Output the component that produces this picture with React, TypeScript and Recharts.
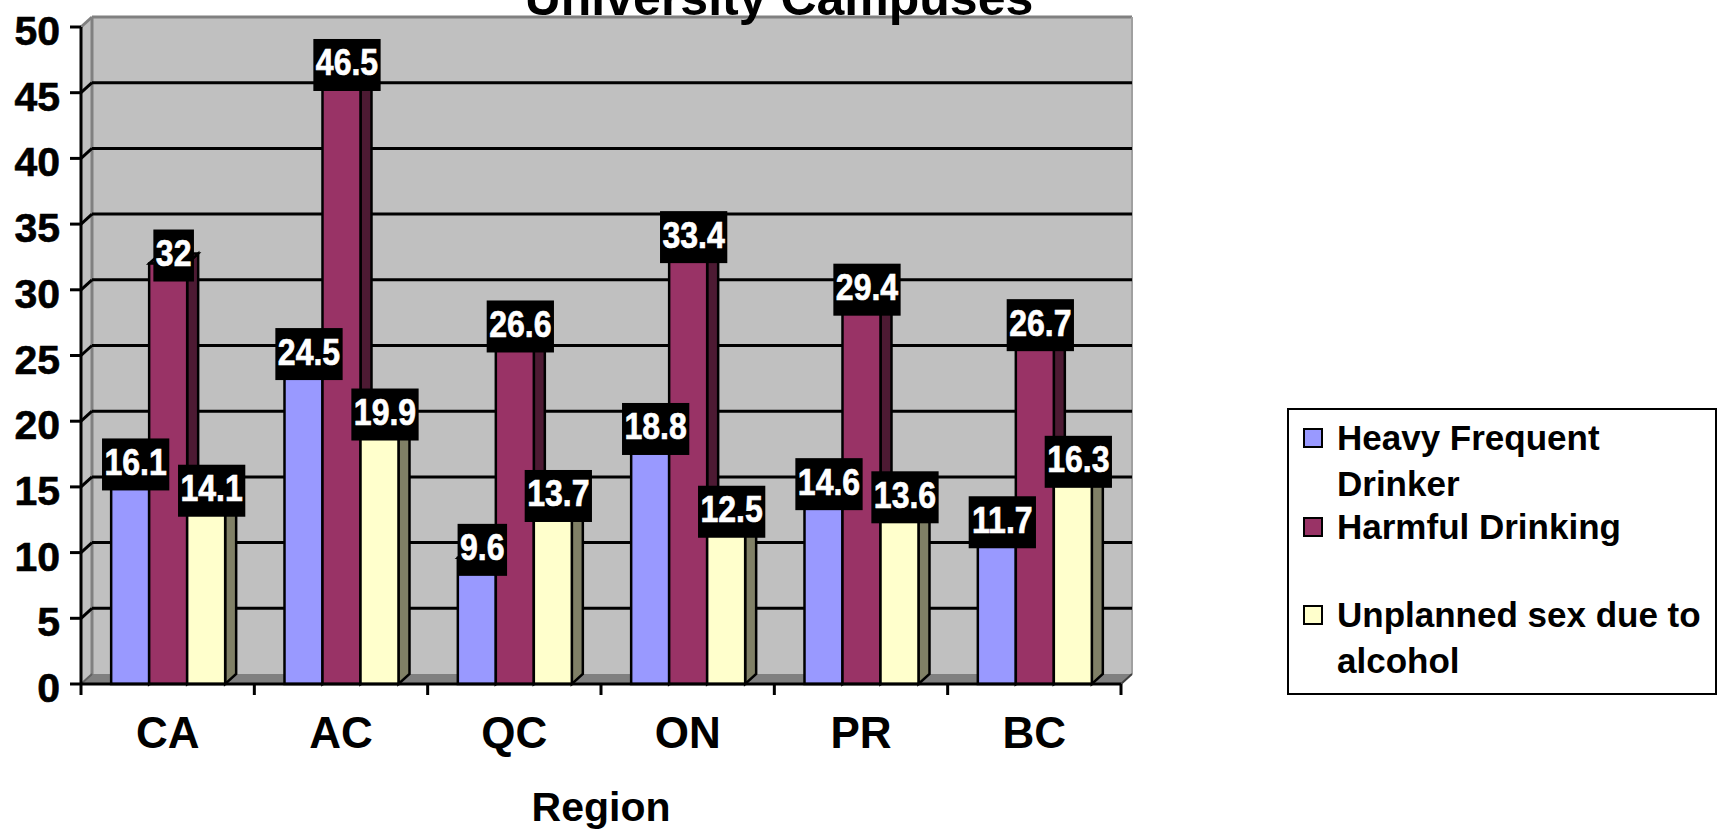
import React from 'react';
import { BarChart, Bar, XAxis, YAxis, CartesianGrid, Legend, LabelList } from 'recharts';

// ---------- data ----------
const regions = ['CA', 'AC', 'QC', 'ON', 'PR', 'BC'];
const heavyFrequentDrinker = [16.1, 24.5, 9.6, 18.8, 14.6, 11.7];
const harmfulDrinking = [32, 46.5, 26.6, 33.4, 29.4, 26.7];
const unplannedSex = [14.1, 19.9, 13.7, 12.5, 13.6, 16.3];
const yTicks = [0, 5, 10, 15, 20, 25, 30, 35, 40, 45, 50];
const seriesNames = ['Heavy Frequent Drinker', 'Harmful Drinking', 'Unplanned sex due to alcohol'];
const seriesKeys = ['hfd', 'hd', 'us'];
const titleText = 'University Campuses';
const xAxisTitle = 'Region';

const data = regions.map((r, i) => ({
  region: r,
  hfd: heavyFrequentDrinker[i],
  hd: harmfulDrinking[i],
  us: unplannedSex[i],
}));

// ---------- styling / layout ----------
const FONT = '"Liberation Sans", Arial, Helvetica, sans-serif';
const frontColors = ['#9999ff', '#993366', '#ffffcc'];
const sideColors = ['#4d4d80', '#4d1a33', '#808066'];

const W = 1731;
const H = 833;
const MARGIN_TOP = 27;
const MARGIN_RIGHT = 610;
const Y_AXIS_W = 81;
const X_AXIS_H = 149;
const PLOT_LEFT = Y_AXIS_W;
const PLOT_TOP = MARGIN_TOP;
const PLOT_RIGHT = W - MARGIN_RIGHT;
const PLOT_BOTTOM = H - X_AXIS_H;
const DX = 11; // 3D depth offset
const DY = 10;
const BAND = (PLOT_RIGHT - PLOT_LEFT) / regions.length;

// ---------- bar shape with 3D faces ----------
const make3D = (front: string, side: string) => (props: any) => {
  const x = Number(props.x);
  const y = Number(props.y);
  const w = Number(props.width);
  const h = Number(props.height);
  if (!isFinite(x) || !isFinite(y) || !isFinite(w) || !isFinite(h)) return <g />;
  const sw = 2.5;
  return (
    <g>
      <polygon
        points={`${x + w},${y} ${x + w + DX},${y - DY} ${x + w + DX},${y + h - DY} ${x + w},${y + h}`}
        fill={side}
        stroke="#000"
        strokeWidth={sw}
      />
      <polygon
        points={`${x},${y} ${x + DX},${y - DY} ${x + w + DX},${y - DY} ${x + w},${y}`}
        fill={front}
        stroke="#000"
        strokeWidth={sw}
      />
      <rect x={x} y={y} width={w} height={h} fill={front} stroke="#000" strokeWidth={sw} />
    </g>
  );
};

const emptyShape = () => <g />;

// ---------- data label (black box, white text) ----------
const LabelBox = (props: any) => {
  const vb = props.viewBox || {};
  const x = Number(props.x ?? vb.x);
  const y = Number(props.y ?? vb.y);
  const width = Number(props.width ?? vb.width);
  const s = String(props.value);
  const fs = 32;
  let em = 0;
  for (const c of s) em += c === '.' ? 0.278 : 0.556;
  const bw = em * fs + 5;
  const bh = 52;
  const cx = x + width / 2 + DX / 2;
  const cy = y - 8;
  const base = cy + 10.5;
  return (
    <g>
      <rect x={cx - bw / 2} y={cy - bh / 2} width={bw} height={bh} fill="#000" />
      <text
        x={cx}
        y={base}
        textAnchor="middle"
        fill="#fff"
        stroke="#fff"
        strokeWidth={0.6}
        fontFamily={FONT}
        fontWeight="bold"
        fontSize={fs}
        transform={`translate(0 ${base}) scale(1 1.16) translate(0 ${-base})`}
      >
        {s}
      </text>
    </g>
  );
};

// ---------- axis ticks ----------
const YTick = (props: any) => {
  const y = Number(props.y);
  const v = props.payload?.value;
  const isEdge = v === 0 || v === 50;
  return (
    <g>
      <line x1={PLOT_LEFT - 11} y1={y} x2={PLOT_LEFT} y2={y} stroke="#000" strokeWidth={3} />
      {!isEdge && (
        <line x1={PLOT_LEFT} y1={y} x2={PLOT_LEFT + DX} y2={y - DY} stroke="#000" strokeWidth={3} />
      )}
      <text
        x={PLOT_LEFT - 21}
        y={y + 18}
        textAnchor="end"
        fill="#000"
        stroke="#000"
        strokeWidth={0.6}
        fontFamily={FONT}
        fontWeight="bold"
        fontSize={41}
      >
        {v}
      </text>
    </g>
  );
};

const XTick = (props: any) => {
  const x = Number(props.x);
  const idx = Number(props.index ?? props.payload?.index ?? 0);
  const last = idx === regions.length - 1;
  return (
    <g>
      <line x1={x - BAND / 2} y1={PLOT_BOTTOM} x2={x - BAND / 2} y2={PLOT_BOTTOM + 11} stroke="#000" strokeWidth={3} />
      {last && (
        <line x1={x + BAND / 2} y1={PLOT_BOTTOM} x2={x + BAND / 2} y2={PLOT_BOTTOM + 11} stroke="#000" strokeWidth={3} />
      )}
      <text
        x={x}
        y={PLOT_BOTTOM + 64}
        textAnchor="middle"
        fill="#000"
        fontFamily={FONT}
        fontWeight="bold"
        fontSize={44}
      >
        {props.payload?.value}
      </text>
    </g>
  );
};

const gridLine = (p: any) => {
  const y1 = Number(p.y1);
  if (Math.abs(y1 - PLOT_TOP) < 1 || Math.abs(y1 - PLOT_BOTTOM) < 1) return <g key={p.key} />;
  return (
    <line
      key={p.key}
      x1={Number(p.x1) + DX}
      y1={y1 - DY}
      x2={Number(p.x2) + DX}
      y2={Number(p.y2) - DY}
      stroke="#000"
      strokeWidth={3}
    />
  );
};

// ---------- legend ----------
const LegendBox = (props: any) => {
  const payload = props.payload || [];
  const items = seriesNames.map((name, i) => {
    const e = payload.find((p: any) => p.value === name);
    return { name, color: (e && e.color) || frontColors[i] };
  });
  return (
    <div
      style={{
        width: 430,
        height: 287,
        border: '2px solid #000',
        boxSizing: 'border-box',
        background: '#fff',
        paddingTop: 5,
        fontFamily: FONT,
        fontWeight: 'bold',
        fontSize: 35,
        color: '#000',
        textAlign: 'left',
      }}
    >
      {items.map((e, i) => (
        <div key={i} style={{ display: 'flex', height: 88.5 }}>
          <div
            style={{
              width: 20,
              height: 20,
              boxSizing: 'border-box',
              border: '2px solid #000',
              background: e.color,
              marginLeft: 14,
              marginTop: 13,
              flex: 'none',
            }}
          />
          <div style={{ marginLeft: 14, width: 378, lineHeight: '46px' }}>{e.name}</div>
        </div>
      ))}
    </div>
  );
};

// ---------- 3D walls underlay ----------
const Walls = () => {
  const bl = PLOT_LEFT + DX;
  const bt = PLOT_TOP - DY;
  const br = PLOT_RIGHT + DX;
  const bb = PLOT_BOTTOM - DY;
  return (
    <svg width={W} height={H} style={{ position: 'absolute', left: 0, top: 0 }}>
      <rect x={bl} y={bt} width={br - bl} height={bb - bt} fill="#c0c0c0" />
      <polygon
        points={`${PLOT_LEFT},${PLOT_TOP} ${bl},${bt} ${bl},${bb} ${PLOT_LEFT},${PLOT_BOTTOM}`}
        fill="#c0c0c0"
      />
      <polygon
        points={`${PLOT_LEFT},${PLOT_BOTTOM} ${bl},${bb} ${br},${bb} ${PLOT_RIGHT},${PLOT_BOTTOM}`}
        fill="#808080"
      />
      <line x1={bl} y1={bt} x2={br} y2={bt} stroke="#808080" strokeWidth={3} />
      <line x1={br} y1={bt} x2={br} y2={bb} stroke="#a0a0a0" strokeWidth={2} />
      <line x1={bl} y1={bt} x2={bl} y2={bb} stroke="#808080" strokeWidth={3} />
      <line x1={PLOT_LEFT} y1={PLOT_TOP} x2={bl} y2={bt} stroke="#808080" strokeWidth={3} />
      <line x1={PLOT_LEFT} y1={PLOT_BOTTOM} x2={bl} y2={bb} stroke="#606060" strokeWidth={2} />
      <line x1={PLOT_RIGHT} y1={PLOT_BOTTOM} x2={br} y2={bb} stroke="#404040" strokeWidth={2} />
      <text
        x={779}
        y={15}
        textAnchor="middle"
        fill="#000"
        fontFamily={FONT}
        fontWeight="bold"
        fontSize={50}
      >
        {titleText}
      </text>
    </svg>
  );
};

export default function App() {
  return (
    <div style={{ position: 'absolute', left: 0, top: 0, width: W, height: H, background: '#fff' }}>
      <Walls />
      <div style={{ position: 'absolute', left: 0, top: 0 }}>
        <BarChart
          width={W}
          height={H}
          data={data}
          margin={{ top: MARGIN_TOP, right: MARGIN_RIGHT, bottom: 0, left: 0 }}
          barCategoryGap="17.4%"
          barGap={0}
        >
          <CartesianGrid vertical={false} horizontal={gridLine} fill="none" />
          <XAxis
            dataKey="region"
            height={X_AXIS_H}
            axisLine={{ stroke: '#000', strokeWidth: 3 }}
            tickLine={false}
            tick={(p: any) => <XTick {...p} />}
            interval={0}
            label={{
              value: xAxisTitle,
              position: 'insideBottom',
              offset: 12,
              fill: '#000',
              fontSize: 41,
              fontWeight: 'bold',
              fontFamily: FONT,
            }}
          />
          <XAxis xAxisId="lab" dataKey="region" hide />
          <YAxis
            width={Y_AXIS_W}
            domain={[0, 50]}
            ticks={yTicks}
            interval={0}
            axisLine={{ stroke: '#000', strokeWidth: 3 }}
            tickLine={false}
            tick={(p: any) => <YTick {...p} />}
          />
          {seriesKeys.map((k, i) => (
            <Bar
              key={k}
              dataKey={k}
              name={seriesNames[i]}
              fill={frontColors[i]}
              shape={make3D(frontColors[i], sideColors[i])}
              isAnimationActive={false}
            />
          ))}
          {seriesKeys.map((k, i) => (
            <Bar
              key={'lab-' + k}
              xAxisId="lab"
              dataKey={k}
              name={'label-' + k}
              fill="none"
              legendType="none"
              shape={emptyShape}
              isAnimationActive={false}
            >
              <LabelList dataKey={k} content={(p: any) => <LabelBox {...p} />} />
            </Bar>
          ))}
          <Legend
            layout="vertical"
            align="center"
            verticalAlign="middle"
            width={430}
            height={287}
            wrapperStyle={{ left: 1287, top: 408, width: 430, height: 287 }}
            content={(p: any) => <LegendBox {...p} />}
          />
        </BarChart>
      </div>
    </div>
  );
}
